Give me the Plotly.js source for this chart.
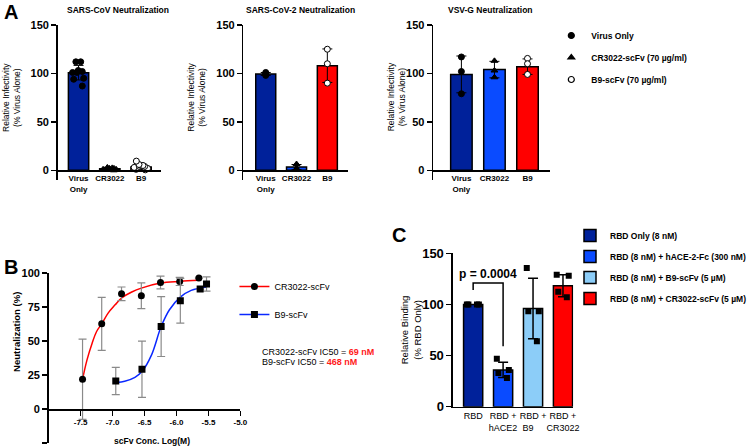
<!DOCTYPE html>
<html>
<head>
<meta charset="utf-8">
<script src="https://cdn.plot.ly/plotly-3.0.1.min.js"></script>
<style>
  html, body { margin: 0; padding: 0; background: #fff; }
  #chart { width: 752px; height: 448px; }
</style>
</head>
<body>
<div id="chart"></div>
<script>
// ---------- panel A : pseudovirus neutralization ----------
const aCats = ['Virus<br>Only', 'CR3022', 'B9'];
const aColors = ['#00219a', '#0a4bff', '#ff0000'];

const sarsCovMean = [100.8, 1.5, 3.5];
const sarsCovSD = [7.5, 1.2, 2.8];
const sarsCovVirus = [112, 112, 101, 103, 101, 102, 95, 94, 87];
const sarsCovCR = [3, 2, 1, 2.5, 0.5, 1, 2, 0, 1.5];
const sarsCovB9 = [6, 9.5, 4, 3, 5, 2, 1, 4, 5, 0.5];

const sars2Mean = [99.5, 3.3, 108];
const sars2SD = [1.5, 2.7, 17.3];
const sars2Virus = [98, 101, 99.5];
const sars2CR = [6.5, 2, 1.5];
const sars2B9 = [125, 110, 90];

const vsvMean = [99, 104, 107];
const vsvSD = [19, 8.5, 8];
const vsvVirus = [117, 102, 79];
const vsvCR = [113, 103, 96];
const vsvB9 = [115.5, 110, 99];

const aLegend = ['Virus Only', 'CR3022-scFv (70 µg/ml)', 'B9-scFv (70 µg/ml)'];

// ---------- panel B : dose response ----------
const crLogConc = [-7.47, -7.17, -6.86, -6.55, -6.25, -5.95, -5.65];
const crNeut = [21.9, 62.6, 84.7, 83.3, 93, 93.8, 96.3];
const crSD = [29.5, 19.5, 5, 9.5, 4.7, 3, 0];
const b9LogConc = [-6.95, -6.54, -6.24, -5.94, -5.63, -5.53];
const b9Neut = [20.6, 29.2, 60.6, 79.6, 88.2, 91.9];
const b9SD = [10, 20.7, 22, 16.5, 0, 5.3];

// fitted curves
const crFitX = [-7.47, -7.40, -7.32, -7.25, -7.17, -7.07, -6.96, -6.86, -6.70, -6.55, -6.25, -5.95, -5.65];
const crFitY = [21.9, 36.1, 48.4, 57.0, 62.6, 70.5, 76.6, 81.6, 86.0, 88.9, 92.6, 93.8, 94.6];
const b9FitX = [-6.94, -6.81, -6.65, -6.54, -6.39, -6.24, -6.11, -5.94, -5.77, -5.53];
const b9FitY = [19.4, 20.4, 23.3, 27.5, 39.8, 60.6, 73.0, 82.3, 87.2, 89.7];

const bTicks = [-7.5, -7.0, -6.5, -6.0, -5.5, -5.0];
const bTickText = ['-7.5', '-7.0', '-6.5', '-6.0', '-5.5', '-5.0'];
const bYTicks = [-25, 0, 25, 50, 75, 100];
const bYTickText = ['-25', '0', '25', '50', '75', '100'];

// ---------- panel C : RBD binding ----------
const cCats = ['RBD', 'RBD +<br>hACE2', 'RBD +<br>B9&nbsp;&nbsp;&nbsp;&nbsp;', 'RBD +<br>CR3022'];
const cLegend = ['RBD Only (8 nM)', 'RBD (8 nM) + hACE-2-Fc (300 nM)', 'RBD (8 nM) + B9-scFv (5 µM)', 'RBD (8 nM) + CR3022-scFv (5 µM)'];
const cColors = ['#00219a', '#0a4bff', '#8ccdf8', '#ff0000'];
const cMean = [100, 36, 96, 118.3];
const cSD = [0, 7.5, 29.5, 10.7];
const cPoints = [[100, 100, 100, 100], [47, 36, 33, 28], [135.6, 93.3, 93.3, 64], [129, 128, 112.5, 107]];
const bracketY = [114, 121, 121, 59];
const pText = 'p = 0.0004';

// ---------- helpers ----------
const F = 'Arial, "Liberation Sans", sans-serif';
const W = 752, H = 448;
const px = v => v / W;
const py = v => 1 - v / H;

function barTrace(means, sds, xa, ya) {
  return {
    type: 'bar', x: aCats, y: means, xaxis: xa, yaxis: ya, width: 0.65,
    marker: { color: aColors, line: { color: '#000', width: 1.5 } },
    error_y: { type: 'data', array: sds, color: '#000', thickness: 1, width: 5 },
    showlegend: false, hoverinfo: 'skip'
  };
}

function jitterPts(cat, vals, sym, fill, xa, ya) {
  return {
    type: 'box', x: vals.map(() => cat), y: vals, xaxis: xa, yaxis: ya,
    boxpoints: 'all', jitter: 0.9, pointpos: 0, width: 0.6,
    fillcolor: 'rgba(0,0,0,0)', line: { color: 'rgba(0,0,0,0)', width: 0 },
    marker: { symbol: sym, size: 6, color: fill, line: { color: '#000', width: 1 } },
    showlegend: false, hoverinfo: 'skip'
  };
}

function columnPts(cat, vals, sym, fill, xa, ya) {
  return {
    type: 'scatter', mode: 'markers', x: vals.map(() => cat), y: vals, xaxis: xa, yaxis: ya,
    marker: { symbol: sym, size: 6, color: fill, line: { color: '#000', width: 1 } },
    showlegend: false, hoverinfo: 'skip'
  };
}

const symA = ['circle', 'triangle-up', 'circle'];
const fillA = ['#000', '#000', '#fff'];

const traces = [];
// A1
traces.push(barTrace(sarsCovMean, sarsCovSD, 'x', 'y'));
[sarsCovVirus, sarsCovCR, sarsCovB9].forEach((v, i) => traces.push(jitterPts(aCats[i], v, symA[i], fillA[i], 'x', 'y')));
// A2
traces.push(barTrace(sars2Mean, sars2SD, 'x2', 'y2'));
[sars2Virus, sars2CR, sars2B9].forEach((v, i) => traces.push(columnPts(aCats[i], v, symA[i], fillA[i], 'x2', 'y2')));
// A3
traces.push(barTrace(vsvMean, vsvSD, 'x3', 'y3'));
[vsvVirus, vsvCR, vsvB9].forEach((v, i) => traces.push(columnPts(aCats[i], v, symA[i], fillA[i], 'x3', 'y3')));
// A legend
aLegend.forEach((name, i) => traces.push({
  type: 'scatter', mode: 'markers', x: [null], y: [null], xaxis: 'x3', yaxis: 'y3',
  name, legend: 'legend', legendgroup: 'a' + i,
  marker: { symbol: symA[i], size: 6, color: fillA[i], line: { color: '#000', width: 1.2 } }
}));

// B
traces.push({
  type: 'scatter', mode: 'lines', x: crFitX, y: crFitY, xaxis: 'x4', yaxis: 'y4',
  line: { color: '#ff0000', width: 1.5, shape: 'spline' }, showlegend: false, hoverinfo: 'skip'
});
traces.push({
  type: 'scatter', mode: 'lines', x: b9FitX, y: b9FitY, xaxis: 'x4', yaxis: 'y4',
  line: { color: '#0a28ff', width: 1.5, shape: 'spline' }, showlegend: false, hoverinfo: 'skip'
});
traces.push({
  type: 'scatter', mode: 'markers', x: crLogConc, y: crNeut, xaxis: 'x4', yaxis: 'y4',
  marker: { symbol: 'circle', size: 7, color: '#000' },
  error_y: { type: 'data', array: crSD, color: '#8a8a8a', thickness: 1.2, width: 4 },
  showlegend: false, hoverinfo: 'skip'
});
traces.push({
  type: 'scatter', mode: 'markers', x: b9LogConc, y: b9Neut, xaxis: 'x4', yaxis: 'y4',
  marker: { symbol: 'square', size: 7, color: '#000' },
  error_y: { type: 'data', array: b9SD, color: '#8a8a8a', thickness: 1.2, width: 4 },
  showlegend: false, hoverinfo: 'skip'
});
[['CR3022-scFv', '#ff0000', 'circle'], ['B9-scFv', '#0a28ff', 'square']].forEach((d, i) => traces.push({
  type: 'scatter', mode: 'lines+markers', x: [null], y: [null], xaxis: 'x4', yaxis: 'y4',
  name: d[0], legend: 'legend2', legendgroup: 'b' + i,
  line: { color: d[1], width: 1.5 }, marker: { symbol: d[2], size: 7, color: '#000' }
}));

// C
cCats.forEach((cat, i) => traces.push({
  type: 'bar', x: [cat], y: [cMean[i]], xaxis: 'x5', yaxis: 'y5', width: 0.64,
  name: cLegend[i], legend: 'legend3', legendgroup: 'c' + i,
  marker: { color: cColors[i], line: { color: '#000', width: 1.5 } },
  error_y: { type: 'data', array: [cSD[i]], color: '#000', thickness: 1.5, width: 5, visible: cSD[i] > 0 },
  hoverinfo: 'skip'
}));
cCats.forEach((cat, i) => traces.push({
  type: 'box', x: cPoints[i].map(() => cat), y: cPoints[i], xaxis: 'x5', yaxis: 'y5',
  boxpoints: 'all', jitter: 0.9, pointpos: 0, width: 0.55,
  fillcolor: 'rgba(0,0,0,0)', line: { color: 'rgba(0,0,0,0)', width: 0 },
  marker: { symbol: 'square', size: 6, color: '#000' },
  showlegend: false, hoverinfo: 'skip'
}));
traces.push({
  type: 'scatter', mode: 'lines', x: [cCats[0], cCats[0], cCats[1], cCats[1]], y: bracketY,
  xaxis: 'x5', yaxis: 'y5', line: { color: '#000', width: 1.5 }, showlegend: false, hoverinfo: 'skip'
});

// ---------- axes ----------
const axisBase = {
  showline: true, linewidth: 1.5, linecolor: '#000', showgrid: false, zeroline: false,
  fixedrange: true, tickcolor: '#000', tickwidth: 1.5, ticklen: 5
};

function aY(anchor) {
  return Object.assign({}, axisBase, {
    domain: [py(180), py(25)], range: [-10, 150], tickvals: [0, 50, 100, 150],
    anchor, ticks: 'outside', tickfont: { family: F, size: 11, weight: 'bold', color: '#000' }
  });
}
function aX(domain, range) {
  return Object.assign({}, axisBase, {
    type: 'category', categoryorder: 'array', categoryarray: aCats,
    domain, range, anchor: 'free', position: py(170), ticks: '', tickangle: 0,
    tickfont: { family: F, size: 8, weight: 'bold', color: '#000' }
  });
}

function ann(text, x, y, size, opts) {
  return Object.assign({
    text, x: px(x), y: py(y), xref: 'paper', yref: 'paper', showarrow: false,
    xanchor: 'center', yanchor: 'middle', font: { family: F, size, color: '#000' }
  }, opts || {});
}

const yTitleA = 'Relative Infectivity<br>(% Virus Alone)';

const layout = {
  width: W, height: H,
  margin: { l: 0, r: 0, t: 0, b: 0 },
  paper_bgcolor: '#fff', plot_bgcolor: 'rgba(0,0,0,0)',
  barmode: 'overlay', boxmode: 'overlay',
  font: { family: F, color: '#000' },
  xaxis: aX([px(58), px(162)], [-0.67, 2.635]),
  yaxis: aY('x'),
  xaxis2: aX([px(245), px(350)], [-0.726, 2.66]),
  yaxis2: aY('x2'),
  xaxis3: aX([px(436), px(554)], [-0.856, 2.69]),
  yaxis3: aY('x3'),
  xaxis4: Object.assign({}, axisBase, {
    domain: [px(49), px(242)], range: [-8, -5], anchor: 'free', position: py(409),
    tickvals: bTicks, ticktext: bTickText, ticks: 'outside', tickangle: 0,
    tickfont: { family: F, size: 8, weight: 'bold', color: '#000' }
  }),
  yaxis4: Object.assign({}, axisBase, {
    domain: [py(443), py(273)], range: [-25, 100], anchor: 'x4',
    tickvals: bYTicks, ticktext: bYTickText, ticks: 'outside',
    tickfont: { family: F, size: 11, weight: 'bold', color: '#000' }
  }),
  xaxis5: Object.assign({}, axisBase, {
    type: 'category', categoryorder: 'array', categoryarray: cCats,
    domain: [px(456), px(577)], range: [-0.674, 3.34], anchor: 'y5', ticks: '', tickangle: 0,
    tickfont: { family: F, size: 9, color: '#000' }
  }),
  yaxis5: Object.assign({}, axisBase, {
    domain: [py(406.7), py(253.3)], range: [0, 150], anchor: 'x5',
    tickvals: [0, 50, 100, 150], ticks: 'outside',
    tickfont: { family: F, size: 13, weight: 'bold', color: '#000' }
  }),
  showlegend: true,
  legend: {
    x: px(555), y: py(21), xanchor: 'left', yanchor: 'top', traceorder: 'grouped',
    tracegroupgap: 3, bgcolor: 'rgba(0,0,0,0)',
    font: { family: F, size: 8.5, weight: 'bold', color: '#000' }
  },
  legend2: {
    x: px(236), y: py(272), xanchor: 'left', yanchor: 'top', traceorder: 'grouped',
    tracegroupgap: 9, bgcolor: 'rgba(0,0,0,0)',
    font: { family: F, size: 9, color: '#000' }
  },
  legend3: {
    x: px(574), y: py(221), xanchor: 'left', yanchor: 'top', traceorder: 'grouped',
    tracegroupgap: 2, bgcolor: 'rgba(0,0,0,0)',
    font: { family: F, size: 8.5, weight: 'bold', color: '#000' }
  },
  annotations: [
    ann('<b>A</b>', 11, 12, 20),
    ann('<b>B</b>', 11, 267, 20),
    ann('<b>C</b>', 402, 235, 20),
    ann('<b>SARS-CoV Neutralization</b>', 119, 10, 8.5),
    ann('<b>SARS-CoV-2 Neutralization</b>', 303, 10, 8.5),
    ann('<b>VSV-G Neutralization</b>', 494, 10, 8.5),
    ann(yTitleA, 11, 97, 8.5, { textangle: -90 }),
    ann(yTitleA, 197, 97, 8.5, { textangle: -90 }),
    ann(yTitleA, 399, 97, 8.5, { textangle: -90 }),
    ann('<b>Neutralization (%)</b>', 16, 332, 9.5, { textangle: -90 }),
    ann('<b>scFv Conc. Log(M)</b>', 153, 441, 8.5),
    ann('CR3022-scFv IC50 = <span style="color:#ff1a1a"><b>69 nM</b></span>', 262, 352, 9, { xanchor: 'left' }),
    ann('B9-scFv IC50 = <span style="color:#ff1a1a"><b>468 nM</b></span>', 262, 362, 9, { xanchor: 'left' }),
    ann('Relative Binding<br>(% RBD Only)', 413, 330, 9.5, { textangle: -90 }),
    {
      text: '<b>' + pText + '</b>', x: 0.5, y: 130, xref: 'x5', yref: 'y5', showarrow: false,
      xanchor: 'center', yanchor: 'middle', font: { family: F, size: 12, color: '#000' }
    }
  ]
};

Plotly.newPlot('chart', traces, layout, { staticPlot: true, displayModeBar: false });
</script>
</body>
</html>
